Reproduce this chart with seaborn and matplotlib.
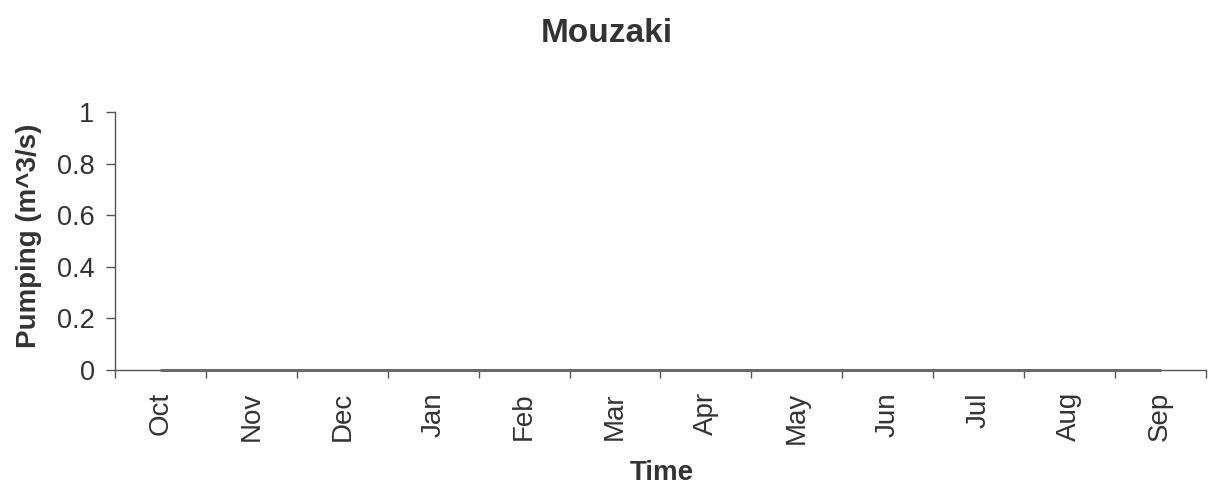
import matplotlib
matplotlib.use("Agg")
import matplotlib.pyplot as plt
import seaborn as sns
import numpy as np
import pandas as pd

months = ["Oct", "Nov", "Dec", "Jan", "Feb", "Mar", "Apr", "May", "Jun", "Jul", "Aug", "Sep"]
pumping = [0, 0, 0, 0, 0, 0, 0, 0, 0, 0, 0, 0]
y_ticks = [0, 0.2, 0.4, 0.6, 0.8, 1]
y_tick_labels = ["0", "0.2", "0.4", "0.6", "0.8", "1"]

sns.set_theme(style="white")
plt.rcParams["font.family"] = ["Liberation Sans", "DejaVu Sans"]

text_color = "#333333"
axis_color = "#555555"

df = pd.DataFrame({"pos": np.arange(len(months)) + 0.5, "pumping": pumping})

fig = plt.figure(figsize=(12.08, 4.88), dpi=100)
ax = fig.add_axes([0.0955, 0.2418, 0.9025, 0.5287])

sns.lineplot(data=df, x="pos", y="pumping", ax=ax, color="#6a6a6a",
             linewidth=2.2, clip_on=False, zorder=5)

ax.set_xlim(0, len(months))
ax.set_ylim(0, 1)

# month boundaries carry tick marks, month names sit between them
ax.set_xticks(np.arange(len(months) + 1))
ax.set_xticklabels([])
ax.set_xticks(np.arange(len(months)) + 0.5, minor=True)
ax.set_xticklabels(months, minor=True, rotation=90, fontsize=20, color=text_color)
ax.tick_params(axis="x", which="major", direction="out", length=6, width=1,
               color=axis_color, bottom=True)
ax.tick_params(axis="x", which="minor", length=0, pad=16)

ax.set_yticks(y_ticks)
ax.set_yticklabels(y_tick_labels, fontsize=19.5, color=text_color)
ax.tick_params(axis="y", direction="out", length=6.5, width=1, color=axis_color,
               left=True, pad=8.5)

for side in ["top", "right"]:
    ax.spines[side].set_visible(False)
for side in ["left", "bottom"]:
    ax.spines[side].set_color(axis_color)
    ax.spines[side].set_linewidth(1.0)

ax.set_xlabel("")
ax.set_ylabel("")
fig.text(0.548, 0.031, "Time", ha="center", va="center", fontsize=20,
         fontweight="bold", color=text_color)
fig.text(0.024, 0.517, "Pumping (m^3/s)", ha="center", va="center", rotation=90,
         fontsize=20, fontweight="bold", color=text_color)
fig.text(0.502, 0.932, "Mouzaki", ha="center", va="center", fontsize=24,
         fontweight="bold", color=text_color)

fig.savefig("out.png", dpi=100, facecolor="white")
